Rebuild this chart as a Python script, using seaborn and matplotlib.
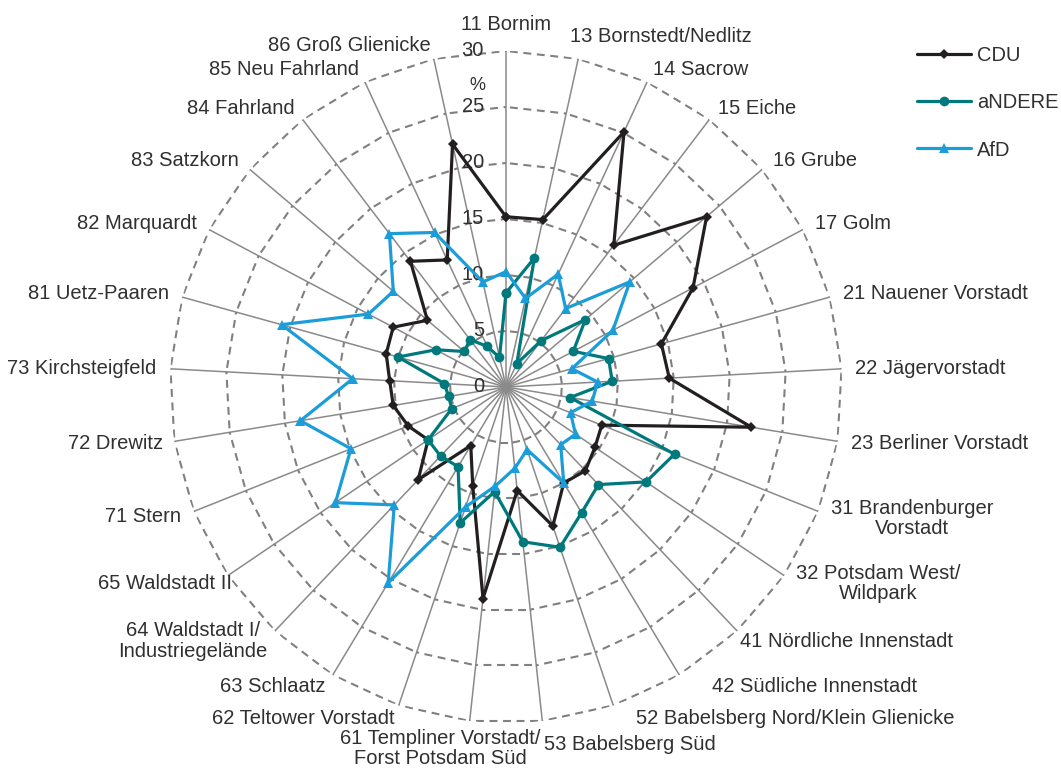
import numpy as np
import pandas as pd
import matplotlib
matplotlib.use("Agg")
import matplotlib.pyplot as plt
from matplotlib.lines import Line2D
import seaborn as sns

sns.set_style("white")
plt.rcParams['font.family'] = ['Liberation Sans', 'DejaVu Sans']

# ---------------- data ----------------
categories = [
    "11 Bornim", "13 Bornstedt/Nedlitz", "14 Sacrow", "15 Eiche", "16 Grube",
    "17 Golm", "21 Nauener Vorstadt", "22 Jägervorstadt", "23 Berliner Vorstadt",
    "31 Brandenburger\nVorstadt", "32 Potsdam West/\nWildpark",
    "41 Nördliche Innenstadt", "42 Südliche Innenstadt",
    "52 Babelsberg Nord/Klein Glienicke", "53 Babelsberg Süd",
    "61 Templiner Vorstadt/\nForst Potsdam Süd", "62 Teltower Vorstadt",
    "63 Schlaatz", "64 Waldstadt I/\nIndustriegelände", "65 Waldstadt II",
    "71 Stern", "72 Drewitz", "73 Kirchsteigfeld", "81 Uetz-Paaren",
    "82 Marquardt", "83 Satzkorn", "84 Fahrland", "85 Neu Fahrland",
    "86 Groß Glienicke",
]
cdu = [15.2, 15.3, 25.1, 15.9, 23.5, 18.9, 14.4, 14.6, 22.2, 9.2, 9.6, 10.3,
       10.0, 13.1, 9.3, 19.0, 9.3, 6.1, 11.4, 8.4, 9.4, 10.2, 10.4, 11.1,
       11.4, 9.2, 14.1, 12.5, 22.2]
andere = [8.4, 11.8, 2.3, 5.2, 9.3, 6.8, 9.5, 9.5, 5.8, 16.2, 15.1, 12.0,
          13.1, 15.1, 13.9, 9.4, 12.8, 8.3, 8.5, 8.4, 5.2, 5.2, 5.5, 10.0,
          7.1, 4.9, 5.3, 4.0, 2.7]
afd = [10.3, 8.1, 11.1, 8.8, 14.5, 10.8, 6.1, 8.2, 7.8, 6.2, 7.5, 7.1,
       10.0, 5.9, 7.3, 8.9, 11.3, 20.4, 14.5, 18.4, 14.9, 18.6, 13.7, 20.8,
       13.9, 13.2, 17.2, 15.2, 9.6]
series_names = ["CDU", "aNDERE", "AfD"]
r_ticks = [0, 5, 10, 15, 20, 25, 30]
unit_label = "%"

# ---------------- styling ----------------
colors = {"CDU": "#231f20", "aNDERE": "#00797d", "AfD": "#1b9dd9"}
markers = {"CDU": "D", "aNDERE": "o", "AfD": "^"}
msizes = {"CDU": 5, "aNDERE": 7, "AfD": 7.5}
text_color = "#303030"
grid_color = "#8a8a8a"
ring_color = "#808080"
FS = 14.5

n = len(categories)
angles = np.arange(n) * 2 * np.pi / n

fig = plt.figure(figsize=(10.61, 7.69), dpi=100)
ax = fig.add_axes([0.1602, 0.0598, 0.6334, 0.8739], projection="polar")
ax.set_theta_zero_location("N")
ax.set_theta_direction(-1)
ax.set_ylim(0, 30)
ax.set_xticks([])
ax.set_yticks([])
ax.grid(False)
ax.spines["polar"].set_visible(False)
ax.set_facecolor("none")

# spokes
for a in angles:
    ax.plot([a, a], [0, 30], color=grid_color, lw=1.1, zorder=1)

# polygon rings (dashed), dash centred at each vertex
dash_on, dash_off = 3.8, 2.7
for r in r_ticks[1:]:
    for i in range(n):
        a0 = angles[i]
        a1 = angles[i + 1] if i + 1 < n else 2 * np.pi
        ax.plot([a0, a1], [r, r], color=ring_color, lw=1.5,
                linestyle=(dash_on + dash_off - dash_on / 2, (dash_on, dash_off)),
                zorder=1, dash_capstyle="butt")

# radial tick labels
for r in r_ticks:
    ax.annotate(str(r), xy=(0, r), xytext=(-22, 0), textcoords="offset pixels",
                ha="right", va="center", fontsize=FS, color=text_color)
ax.annotate(unit_label, xy=(0, 30), xytext=(-21, -35), textcoords="offset pixels",
            ha="right", va="center", fontsize=FS - 1.5, color=text_color)

# data lines through seaborn
theta_closed = np.append(angles, 2 * np.pi)
data = {"CDU": cdu, "aNDERE": andere, "AfD": afd}
frames = []
for name in series_names:
    vals = list(data[name]) + [data[name][0]]
    frames.append(pd.DataFrame({"theta": theta_closed, "value": vals, "party": name}))
df = pd.concat(frames, ignore_index=True)

handles = []
for z, name in enumerate(series_names):
    sub = df[df["party"] == name]
    sns.lineplot(data=sub, x="theta", y="value", ax=ax, sort=False, estimator=None,
                 color=colors[name], lw=2.3, marker=markers[name],
                 markersize=msizes[name], markeredgewidth=0,
                 zorder=3 + z, legend=False)
    handles.append(Line2D([], [], color=colors[name], lw=2.3, marker=markers[name],
                          markersize=msizes[name], markeredgewidth=0, label=name))
ax.set_xlabel("")
ax.set_ylabel("")
ax.set_ylim(0, 30)
ax.set_xticks([])
ax.set_yticks([])

# category labels
pad = 14
nudges = {0: (0, 3), 1: (-11, 9), 9: (0, -2), 11: (-7, 0), 12: (26, 0),
          13: (18, 0), 15: (72, 6), 18: (2, 0), 19: (16, 0), 21: (3, 0)}
for i, (a, lab) in enumerate(zip(angles, categories)):
    s, c = np.sin(a), np.cos(a)
    ha = "left" if s > 0.05 else ("right" if s < -0.05 else "center")
    va = "bottom" if c > 0.99 else ("top" if c < -0.99 else "center")
    dx, dy = pad * s, pad * c
    ndx, ndy = nudges.get(i, (0, 0))
    ax.annotate(lab, xy=(a, 30), xytext=(dx + ndx, dy + ndy),
                textcoords="offset pixels", ha=ha, va=va, fontsize=FS,
                color=text_color, multialignment="center", annotation_clip=False,
                linespacing=1.1)

fig.legend(handles=handles, loc="upper left", bbox_to_anchor=(0.864, 0.940),
           frameon=False, fontsize=FS, handlelength=2.7, handletextpad=0.3,
           labelspacing=1.4, borderaxespad=0, borderpad=0, labelcolor=text_color)

fig.savefig("out.png", dpi=100, facecolor="white")
